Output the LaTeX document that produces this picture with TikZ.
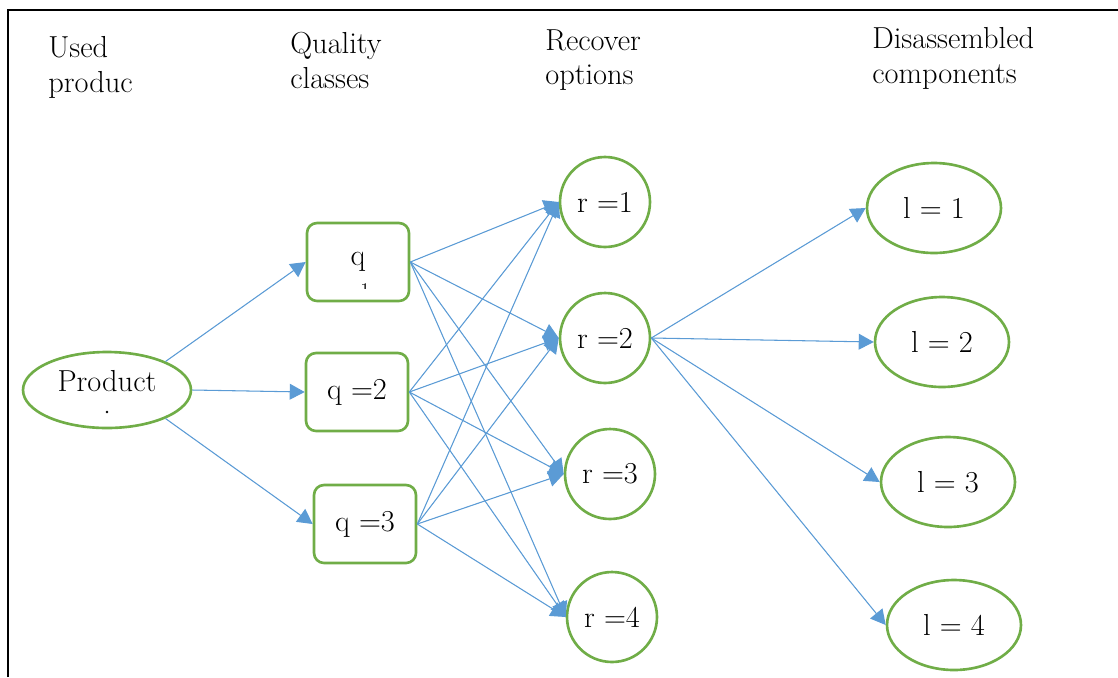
\documentclass[tikz,border=0pt]{standalone}
\usepackage{fontspec}
\usetikzlibrary{arrows.meta,shapes.geometric}

\definecolor{leaf}{HTML}{70AD47}
\definecolor{sky}{HTML}{5B9BD5}

\begin{document}
\begin{tikzpicture}[x=0.02cm,y=-0.02cm,
    every node/.style={font=\fontsize{17.3}{19.8}\selectfont},
    head/.style={anchor=north west,align=left,inner sep=0pt},
    qbox/.style={draw=leaf,line width=1.5pt,rounded corners=0.2cm,
      minimum width=2.04cm,minimum height=1.56cm},
    rcirc/.style={circle,draw=leaf,line width=1.5pt,minimum size=1.8cm,inner sep=0pt},
    lell/.style={ellipse,draw=leaf,line width=1.5pt,minimum width=2.68cm,
      minimum height=1.8cm,inner sep=0pt},
    flow/.style={draw=sky,line width=0.6pt,-{Triangle[length=8.5pt,width=9pt]},
      fill=sky}]
  \useasboundingbox (0,0) rectangle (1118,677);
  \draw[line width=1.6pt] (8,677) -- (8,10) -- (1118,10);

  % column titles
  \node[head] (tused) at (48,36) {Used\\produc};
  \node[head] (tqual) at (290,32) {Quality\\classes};
  \node[head] (trec) at (545,29) {Recover\\options};
  \node[head] (tdis) at (872,27) {Disassembled\\components};

  % used product
  \node[ellipse,draw=leaf,line width=1.5pt,minimum width=3.36cm,minimum height=1.52cm,
    inner sep=0pt,text depth=10pt] (prod) at (107,390) {Product};
  \fill (107,412) circle (0.8pt);

  % quality classes
  \node[qbox] (q1) at (358,262) {q};
  \begin{scope}
    \clip (350,281) rectangle (380,288);
    \node[font=\fontsize{11}{13}\selectfont] at (365,290) {1};
  \end{scope}
  \node[qbox] (q2) at (357,392) {q =2};
  \node[qbox] (q3) at (365,524) {q =3};

  % recover options
  \node[rcirc] (r1) at (605,202) {r =1};
  \node[rcirc] (r2) at (605,338) {r =2};
  \node[rcirc] (r3) at (610,474) {r =3};
  \node[rcirc] (r4) at (612,617) {r =4};

  % components
  \node[lell] (l1) at (934,208) {l = 1};
  \node[lell] (l2) at (942,342) {l = 2};
  \node[lell] (l3) at (948,482) {l = 3};
  \node[lell] (l4) at (954,625) {l = 4};

  \draw[flow] (prod.26) -- (q1.west);
  \draw[flow] (prod.east) -- (q2.west);
  \draw[flow] (prod.-26) -- (q3.west);
  \foreach \q in {1,2,3}
    \foreach \r in {1,...,4}
      \draw[flow] (q\q.east) -- (r\r.west);
  \foreach \l in {1,...,4}
    \draw[flow] (r2.east) -- (l\l.west);
\end{tikzpicture}
\end{document}
